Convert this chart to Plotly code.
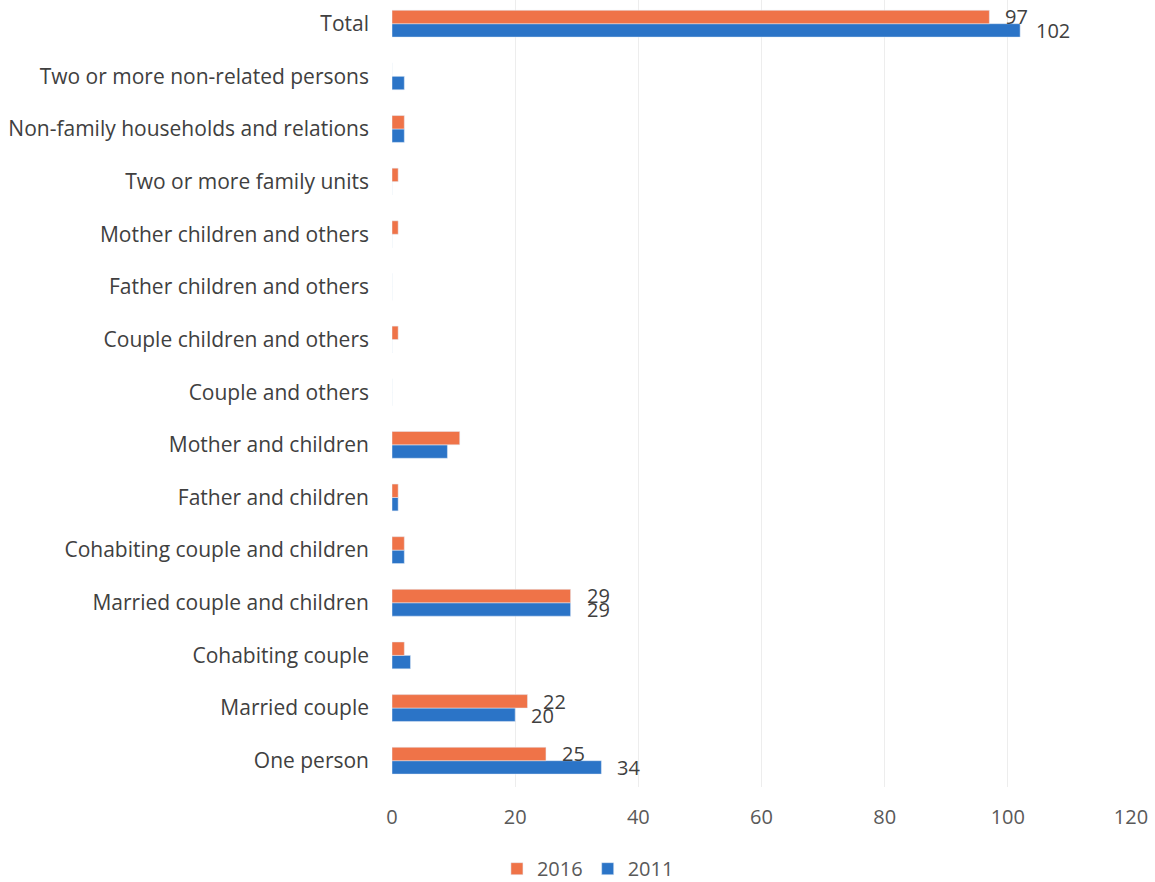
import plotly.graph_objects as go

categories = [
    "One person", "Married couple", "Cohabiting couple", "Married couple and children",
    "Cohabiting couple and children", "Father and children", "Mother and children",
    "Couple and others", "Couple children and others", "Father children and others",
    "Mother children and others", "Two or more family units",
    "Non-family households and relations", "Two or more non-related persons", "Total",
]
values_2016 = [25, 22, 2, 29, 2, 1, 11, 0, 1, 0, 1, 1, 2, 0, 97]
values_2011 = [34, 20, 3, 29, 2, 1, 9, 0, 0, 0, 0, 0, 2, 2, 102]
labelled = ["One person", "Married couple", "Married couple and children", "Total"]
x_ticks = [0, 20, 40, 60, 80, 100, 120]

ORANGE = "#EF7348"
BLUE = "#2B74C7"
FONT = "Open Sans"

fig = go.Figure()
fig.add_trace(go.Bar(y=categories, x=values_2011, name="2011", orientation="h",
                     marker_color=BLUE))
fig.add_trace(go.Bar(y=categories, x=values_2016, name="2016", orientation="h",
                     marker_color=ORANGE))

for cat, v16, v11 in zip(categories, values_2016, values_2011):
    if cat in labelled:
        fig.add_annotation(x=v16, y=cat, text=str(v16), showarrow=False,
                           xanchor="left", xshift=14, yshift=7,
                           font=dict(family=FONT, size=20, color="#404040"))
        fig.add_annotation(x=v11, y=cat, text=str(v11), showarrow=False,
                           xanchor="left", xshift=14, yshift=-7,
                           font=dict(family=FONT, size=20, color="#404040"))

fig.update_layout(
    width=1155, height=882,
    margin=dict(l=392, r=24, t=0, b=95, autoexpand=False),
    barmode="group", bargap=0.49, bargroupgap=0,
    plot_bgcolor="white", paper_bgcolor="white",
    font=dict(family=FONT, size=20, color="#404040"),
    legend=dict(orientation="h", x=0.142, xanchor="left", y=-0.079, yanchor="top",
                traceorder="reversed", font=dict(size=20, color="#595959")),
    xaxis=dict(range=[0, 120], tickvals=x_ticks, showgrid=True, gridcolor="#EDEDED",
               zeroline=False, showline=False, tickfont=dict(size=20, color="#595959"),
               ticks="", automargin=False, ticklabelstandoff=16),
    yaxis=dict(range=[-0.5, 14.45], showgrid=False, showline=False, ticks="",
               automargin=False, ticklabelstandoff=22,
               tickfont=dict(size=21, color="#404040")),
)

fig.write_html("out.html", config={"displayModeBar": False},
               post_script="document.body.style.margin='0px';")
